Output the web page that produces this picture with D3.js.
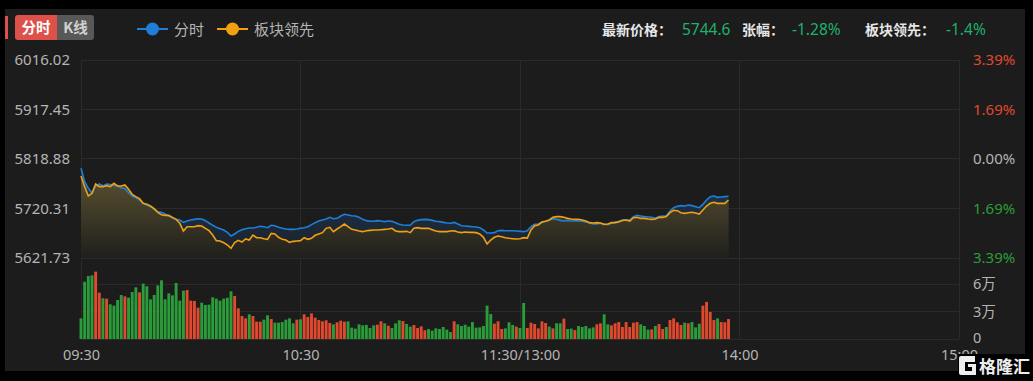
<!DOCTYPE html>
<html><head><meta charset="utf-8">
<script src="https://cdn.jsdelivr.net/npm/d3@7/dist/d3.min.js"></script>
<style>
html,body{margin:0;padding:0;background:#000;overflow:hidden;}
svg{display:block;font-family:"Noto Sans CJK SC","Noto Sans",sans-serif;}
</style></head><body>
<svg id="c" width="1033" height="381"></svg>
<script>
// ---------- data ----------
const tabLabels = ["分时", "K线"];
const seriesNames = ["分时", "板块领先"];
const infoLabels = ["最新价格：", "张幅：", "板块领先："];
const infoValues = ["5744.6", "-1.28%", "-1.4%"];

const priceTicks = [6016.02, 5917.45, 5818.88, 5720.31, 5621.73];
const pctLabels = ["3.39%", "1.69%", "0.00%", "1.69%", "3.39%"];
const pctSign = [1, 1, 0, -1, -1];
const volTicks = [6, 3, 0];
const volLabels = ["6万", "3万", "0"];
const timeTicks = [0, 60, 120, 180, 240];
const timeLabels = ["09:30", "10:30", "11:30/13:00", "14:00", "15:00"];

const fenshi = [5800.3,5773.7,5760.5,5750.5,5765.1,5769.1,5765.1,5769.1,5767.8,5766.4,
5765.1,5761.1,5759.8,5751.8,5745.2,5741.9,5737.2,5730.6,5727.3,5723.9,
5718.6,5714.0,5712.6,5709.3,5705.4,5701.4,5698.7,5697.4,5692.7,5695.4,
5697.4,5698.7,5700.0,5699.4,5696.1,5691.4,5686.8,5682.8,5680.1,5677.5,
5672.8,5665.5,5669.5,5674.8,5678.1,5680.1,5681.5,5681.5,5682.8,5684.8,
5684.1,5682.1,5686.8,5686.1,5682.8,5680.8,5679.5,5678.8,5678.8,5679.5,
5680.8,5682.1,5684.1,5688.1,5692.1,5695.4,5697.4,5699.4,5702.7,5700.0,
5700.7,5705.4,5708.7,5707.4,5706.0,5705.4,5702.7,5698.7,5696.1,5694.8,
5694.8,5696.1,5695.4,5694.1,5695.4,5694.8,5692.1,5688.8,5687.5,5686.8,
5686.8,5694.1,5696.7,5698.1,5698.7,5698.1,5696.7,5694.8,5694.1,5692.7,
5691.4,5690.8,5692.7,5689.4,5686.1,5685.4,5684.8,5684.1,5683.5,5682.1,
5677.5,5671.5,5671.5,5672.2,5676.1,5676.8,5676.1,5676.1,5676.1,5675.5,
5674.8,5674.2,5676.1,5684.1,5688.8,5689.4,5692.7,5694.8,5697.4,5700.0,
5698.7,5696.7,5695.4,5696.7,5695.4,5695.4,5695.4,5694.8,5693.4,5691.4,
5689.4,5689.4,5690.8,5688.8,5688.1,5690.8,5692.7,5694.8,5696.7,5697.4,
5697.4,5704.1,5706.7,5705.4,5704.1,5703.4,5702.7,5700.7,5704.1,5705.4,
5706.0,5715.3,5722.0,5724.6,5726.0,5725.3,5727.3,5726.0,5723.9,5721.9,
5728.6,5737.2,5743.9,5745.2,5742.5,5743.2,5743.9,5744.6];

const bankuai = [5785.0,5763.8,5745.2,5750.5,5769.1,5763.8,5763.8,5765.8,5763.8,5770.4,
5765.1,5765.1,5767.1,5758.5,5748.5,5743.9,5739.9,5730.6,5728.6,5725.3,
5720.0,5712.6,5708.0,5706.7,5706.7,5702.7,5698.7,5690.8,5675.5,5684.1,
5684.1,5684.1,5686.1,5685.4,5680.8,5676.1,5667.5,5656.3,5655.6,5652.3,
5647.6,5641.0,5652.3,5656.9,5653.6,5659.6,5657.6,5667.5,5662.2,5662.2,
5660.2,5658.9,5670.8,5669.5,5662.9,5658.9,5657.6,5652.9,5654.9,5655.6,
5656.3,5662.2,5658.9,5660.9,5666.9,5669.5,5672.2,5680.8,5682.8,5674.2,
5679.5,5684.1,5689.4,5684.1,5678.8,5677.5,5675.5,5674.2,5676.1,5676.8,
5677.5,5677.5,5678.1,5678.8,5679.5,5680.8,5675.5,5674.2,5674.2,5674.8,
5672.2,5680.8,5682.1,5680.8,5680.8,5680.8,5678.1,5675.5,5674.2,5674.2,
5674.2,5675.5,5676.1,5673.5,5672.2,5673.5,5672.8,5672.8,5672.2,5669.5,
5662.9,5649.6,5657.6,5662.9,5665.5,5664.2,5662.2,5660.9,5660.2,5659.6,
5660.2,5662.2,5661.5,5677.5,5686.1,5687.5,5693.4,5694.8,5697.4,5702.7,
5704.1,5704.1,5702.7,5700.7,5699.4,5698.7,5698.7,5697.4,5695.4,5692.1,
5691.4,5692.1,5691.4,5688.8,5689.4,5692.1,5692.1,5693.4,5696.7,5697.4,
5695.4,5702.0,5702.7,5700.7,5700.7,5699.4,5698.7,5699.4,5702.7,5702.7,
5704.1,5712.0,5716.7,5716.0,5712.0,5710.7,5712.0,5712.7,5711.3,5709.3,
5717.3,5725.3,5730.6,5732.6,5730.6,5730.6,5730.6,5737.2];

// volume in 万
const volume = [2.25,6.25,6.87,6.95,7.35,5.05,4.44,4.40,3.78,3.64,
4.25,4.80,4.65,4.50,5.13,5.64,5.09,6.04,5.75,4.33,
4.80,5.85,6.40,4.33,4.98,4.76,6.11,4.18,5.27,5.35,
4.18,4.15,3.42,3.96,3.71,3.75,4.55,4.40,4.18,4.40,
4.50,5.20,4.69,3.35,2.51,2.25,2.69,2.51,1.89,1.89,
2.11,2.58,2.18,1.78,1.78,1.85,2.11,2.25,1.71,2.11,
2.15,2.69,2.40,2.80,2.33,2.07,1.93,2.04,1.75,1.60,
1.82,2.00,1.89,1.93,1.24,1.13,1.60,1.49,1.53,1.20,
1.49,1.56,1.93,1.71,1.45,1.20,1.71,2.04,1.96,1.64,
1.35,1.53,1.20,1.38,0.95,1.09,0.91,1.16,1.09,1.31,
1.02,0.76,1.93,1.60,1.42,1.56,1.35,1.85,1.24,1.27,
1.42,3.64,2.73,1.67,1.93,1.09,1.16,1.82,1.53,1.35,
1.20,3.93,1.20,1.78,1.64,1.16,1.93,1.75,1.35,1.16,
1.71,1.71,2.22,1.09,1.13,0.98,1.42,1.31,1.42,1.16,
1.27,1.60,1.71,2.69,1.60,1.49,1.71,1.85,1.31,1.85,
1.31,1.78,1.85,1.60,1.42,1.02,1.05,1.42,1.64,1.09,
1.31,2.07,2.25,1.82,1.53,1.78,1.71,1.85,1.27,1.67,
3.64,4.04,2.95,2.07,2.25,1.85,1.82,2.18];

// R = up (red), G = down (green)
const volDir = ("GGGGRRGRGG" + "GGRGGGRGGG" + "GGGGGGGGGR" + "RRRGGGGGGG" + "GGRRRRGRRR" +
  "GGRGGGGGGR" + "GRRRRRRRRG" + "RRRGGGGGGG" + "GRRGRGGGRG" + "GRRRRGGGGG" +
  "GGRGGGGGGG" + "GGGRRRGGGR" + "GGRRRRRRGR" + "GGRGGRGGGG" + "GRRGGRRRRR" +
  "RRRGGGRGRR" + "GRRRRGRGGG" + "RRRRGRRR").split("");

// ---------- styles ----------
const C = {
  panel: "#1c1c1c", grid: "#2b2b2b", text: "#b4b4b4", white: "#e6e6e6",
  blue: "#1f7fd6", orange: "#f0a010", red: "#e0492d", green: "#2b9c3a",
  teal: "#1fb06c", tabRed: "#dc524a", tabGray: "#585858"
};
const NUMFONT = "'Noto Sans','Noto Sans CJK SC',sans-serif";

const svg = d3.select("#c");
svg.append("rect").attr("width", 1033).attr("height", 381).attr("fill", "#000");
svg.append("rect").attr("x", 5).attr("y", 9).attr("width", 1020).attr("height", 362).attr("fill", C.panel);

const defs = svg.append("defs");
const x = d3.scaleLinear().domain([0, 240]).range([81, 959]);
const y = d3.scaleLinear().domain([priceTicks[4], priceTicks[0]]).range([258, 60]);
const yv = d3.scaleLinear().domain([0, 6]).range([339, 284]);

const gO = defs.append("linearGradient").attr("id", "gO").attr("gradientUnits", "userSpaceOnUse")
  .attr("x1", 0).attr("x2", 0).attr("y1", y(5818.88)).attr("y2", 258);
gO.append("stop").attr("offset", 0).attr("stop-color", "#665a34");
gO.append("stop").attr("offset", 1).attr("stop-color", "#1f1f1c");
const gB = defs.append("linearGradient").attr("id", "gB").attr("gradientUnits", "userSpaceOnUse")
  .attr("x1", 0).attr("x2", 0).attr("y1", y(5818.88)).attr("y2", 258);
gB.append("stop").attr("offset", 0).attr("stop-color", "#1d3a5c");
gB.append("stop").attr("offset", 1).attr("stop-color", "#1c2128");

// ---------- header ----------
svg.append("rect").attr("x", 5).attr("y", 16).attr("width", 3).attr("height", 23).attr("fill", C.tabRed);
svg.append("path").attr("d", "M18,15 h39 v25 h-39 a3,3 0 0 1 -3,-3 v-19 a3,3 0 0 1 3,-3z").attr("fill", C.tabRed);
svg.append("path").attr("d", "M57,15 h34 a3,3 0 0 1 3,3 v19 a3,3 0 0 1 -3,3 h-34z").attr("fill", C.tabGray);
svg.append("text").attr("x", 36).attr("y", 33).attr("text-anchor", "middle").attr("fill", "#fff")
  .attr("font-size", 14.5).attr("font-weight", "bold").text(tabLabels[0]);
svg.append("text").attr("x", 75.5).attr("y", 33).attr("text-anchor", "middle").attr("fill", "#d0d0d0")
  .attr("font-size", 14.5).attr("font-weight", "bold").text(tabLabels[1]);

const legX = [137, 217];
[C.blue, C.orange].forEach((col, k) => {
  const g = svg.append("g").attr("transform", `translate(${legX[k]},29)`);
  g.append("line").attr("x1", 0).attr("x2", 31).attr("stroke", col).attr("stroke-width", 2);
  g.append("circle").attr("cx", 15.5).attr("r", 6.5).attr("fill", col);
  g.append("text").attr("x", 37).attr("y", 5.5).attr("fill", C.text).attr("font-size", 15).text(seriesNames[k]);
});

const infoX = [602, 742, 865], valX = [682, 792, 946];
infoLabels.forEach((t, k) => {
  svg.append("text").attr("x", infoX[k]).attr("y", 34.5).attr("fill", C.white).attr("font-size", 14)
    .attr("font-weight", "bold").text(t);
  svg.append("text").attr("x", valX[k]).attr("y", 34.5).attr("fill", C.teal).attr("font-size", 15.5)
    .attr("font-family", NUMFONT).text(infoValues[k]);
});

// ---------- grid ----------
const grid = svg.append("g").attr("stroke", C.grid).attr("stroke-width", 1).attr("shape-rendering", "crispEdges");
priceTicks.forEach(v => grid.append("line").attr("x1", x(0)).attr("x2", x(240)).attr("y1", y(v)).attr("y2", y(v)));
volTicks.forEach(v => grid.append("line").attr("x1", x(0)).attr("x2", x(240)).attr("y1", yv(v)).attr("y2", yv(v)));
timeTicks.forEach(t => grid.append("line").attr("x1", x(t)).attr("x2", x(t)).attr("y1", 60).attr("y2", 339));

// ---------- areas & lines ----------
const area = d3.area().x((d, i) => x(i)).y0(y.range()[0]).y1(d => y(d));
const line = d3.line().x((d, i) => x(i)).y(d => y(d));
svg.append("path").datum(fenshi).attr("d", area).attr("fill", "url(#gB)");
svg.append("path").datum(bankuai).attr("d", area).attr("fill", "url(#gO)");
svg.append("path").datum(fenshi).attr("d", line).attr("fill", "none").attr("stroke", C.blue).attr("stroke-width", 1.6);
svg.append("path").datum(bankuai).attr("d", line).attr("fill", "none").attr("stroke", C.orange).attr("stroke-width", 1.6);

// ---------- volume ----------
const bw = 2.9;
svg.append("g").selectAll("rect").data(volume).join("rect")
  .attr("x", (d, i) => x(i) - bw / 2).attr("width", bw)
  .attr("y", d => yv(d)).attr("height", d => yv(0) - yv(d))
  .attr("fill", (d, i) => volDir[i] === "R" ? C.red : C.green);

// ---------- axes ----------
const leftAxis = d3.axisLeft(y).tickValues(priceTicks).tickSize(0).tickPadding(0).tickFormat(d3.format(".2f"));
const gl = svg.append("g").attr("transform", "translate(70,0)").call(leftAxis);
gl.select(".domain").remove();
gl.selectAll("text").attr("fill", C.text).attr("font-size", 15).attr("font-family", NUMFONT);

const rightAxis = d3.axisRight(y).tickValues(priceTicks).tickSize(0).tickPadding(0)
  .tickFormat((d, i) => pctLabels[i]);
const gr = svg.append("g").attr("transform", "translate(973,0)").call(rightAxis);
gr.select(".domain").remove();
gr.selectAll("text").attr("font-size", 15).attr("font-family", NUMFONT)
  .attr("fill", (d, i) => pctSign[i] > 0 ? C.red : pctSign[i] < 0 ? C.green : C.text);

const volAxis = d3.axisRight(yv).tickValues(volTicks).tickSize(0).tickPadding(0)
  .tickFormat((d, i) => volLabels[i]);
const gv = svg.append("g").attr("transform", "translate(973,0)").call(volAxis);
gv.select(".domain").remove();
gv.selectAll("text").attr("fill", C.text).attr("font-size", 14.5).attr("font-family", NUMFONT);
gv.selectAll(".tick").filter(d => d === 0).select("text").attr("dy", "0.22em");

const timeAxis = d3.axisBottom(x).tickValues(timeTicks).tickSize(0).tickPadding(0)
  .tickFormat((d, i) => timeLabels[i]);
const gt = svg.append("g").attr("transform", "translate(0,350)").call(timeAxis);
gt.select(".domain").remove();
gt.selectAll("text").attr("fill", C.text).attr("font-size", 14.5).attr("font-family", NUMFONT);

// ---------- watermark ----------
svg.append("rect").attr("x", 958).attr("y", 354).attr("width", 75).attr("height", 27).attr("fill", "#000");
const wm = svg.append("g").attr("transform", "translate(959,356)");
wm.append("path").attr("d", "M2,0 h14 v6 h-10 v9 h7 v-4 h-4 v-3 h8 v11 h-15 a2,2 0 0 1 -2,-2 v-15 a2,2 0 0 1 2,-2z")
  .attr("fill", "#eee");
svg.append("text").attr("x", 979).attr("y", 373).attr("fill", "#eee").attr("font-size", 17)
  .attr("font-weight", "bold").text("格隆汇");
</script>
</body></html>
